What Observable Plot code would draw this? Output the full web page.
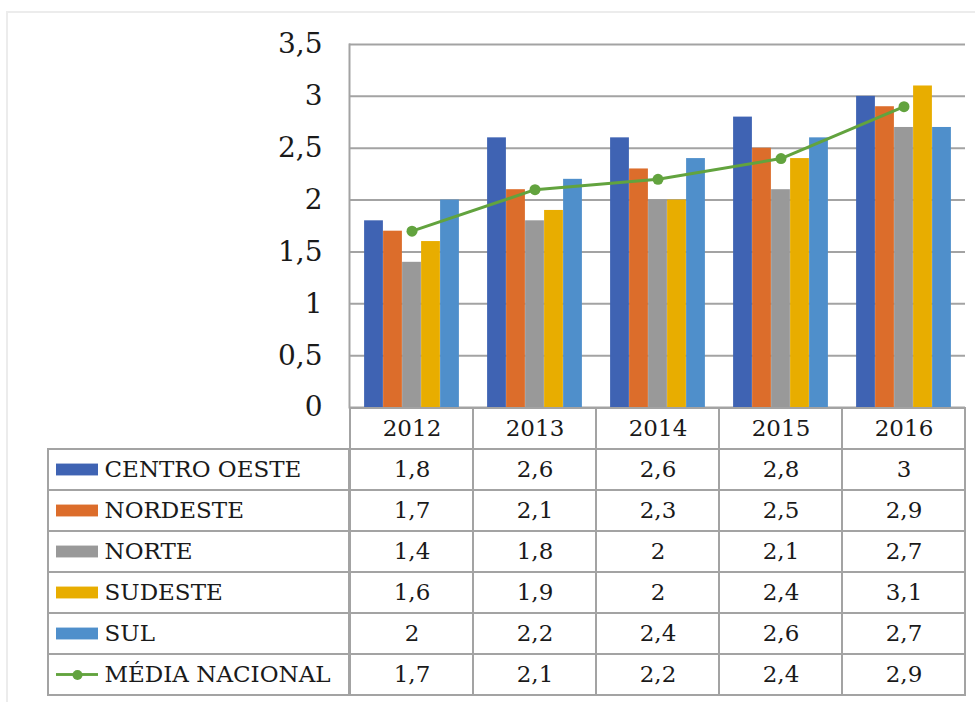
<!DOCTYPE html>
<html><head><meta charset="utf-8">
<script src="https://cdn.jsdelivr.net/npm/d3@7"></script>
<script src="https://cdn.jsdelivr.net/npm/@observablehq/plot@0.6"></script>
<style>
body{margin:0;background:#fff;width:975px;height:702px;overflow:hidden;position:relative;}
#frame{position:absolute;left:6px;top:11px;width:969px;height:691px;border-top:2px solid #ececec;border-left:2px solid #ececec;}
#chart{position:absolute;left:0;top:0;}
#table{position:absolute;left:0;top:407px;}
svg{overflow:visible;}
</style></head><body>
<div id="frame"></div><div id="chart"></div><div id="table"></div>
<script>
// ---- data ----
const years = ["2012", "2013", "2014", "2015", "2016"];
const regions = ["CENTRO OESTE", "NORDESTE", "NORTE", "SUDESTE", "SUL"];
const centroOeste = [1.8, 2.6, 2.6, 2.8, 3];
const nordeste = [1.7, 2.1, 2.3, 2.5, 2.9];
const norte = [1.4, 1.8, 2, 2.1, 2.7];
const sudeste = [1.6, 1.9, 2, 2.4, 3.1];
const sul = [2, 2.2, 2.4, 2.6, 2.7];
const mediaLabel = "MÉDIA NACIONAL";
const mediaNacional = [1.7, 2.1, 2.2, 2.4, 2.9];
const yTicks = [0, 0.5, 1, 1.5, 2, 2.5, 3, 3.5];

// ---- styling ----
const colors = ["#3f63b3", "#dc6d2b", "#999999", "#e8ad00", "#4f8fcb"];
const green = "#62a33e";
const gridColor = "#a3a3a3";
const textColor = "#1a1a1a";
const font = "DejaVu Serif";
const W = 975, left = 349, right = 10;
const frameW = W - left - right;
const bw = frameW / years.length;
const barW = 19;
const pad = (bw - barW * regions.length) / 2;
const fmt = v => String(v).replace(".", ",");

const series = [centroOeste, nordeste, norte, sudeste, sul];
const barData = regions.flatMap((r, i) => years.map((y, j) => ({region: r, year: y, value: series[i][j]})));
const mediaData = years.map((y, j) => ({year: y, value: mediaNacional[j]}));

const chart = Plot.plot({
  width: W, height: 409,
  marginLeft: left, marginRight: right, marginTop: 44, marginBottom: 2,
  style: {fontFamily: font, color: textColor, background: "transparent"},
  x: {type: "band", domain: years, padding: 0, axis: null},
  y: {domain: [0, 3.5]},
  color: {domain: regions, range: colors},
  marks: [
    Plot.gridY(yTicks, {stroke: gridColor, strokeOpacity: 1, strokeWidth: 2}),
    Plot.frame({anchor: "left", stroke: gridColor, strokeWidth: 2}),
    ...regions.map((r, i) => Plot.barY(barData.filter(d => d.region === r), {
      x: "year", y: "value", fill: "region",
      insetLeft: pad + barW * i, insetRight: bw - pad - barW * (i + 1)
    })),
    Plot.lineY(mediaData, {x: "year", y: "value", stroke: green, strokeWidth: 3}),
    Plot.dot(mediaData, {x: "year", y: "value", fill: green, r: 5.5}),
    Plot.axisY(yTicks, {tickSize: 0, tickPadding: 27, fontSize: 28, fontFamily: font, tickFormat: fmt, label: null})
  ]
});
document.getElementById("chart").append(chart);

// ---- table ----
const labels = [...regions, mediaLabel];
const rowKeys = ["header", ...labels];
const allSeries = [...series, mediaNacional];
const valueData = labels.flatMap((l, i) => years.map((y, j) => ({row: l, year: y, value: allSeries[i][j]})));
const gridCells = rowKeys.flatMap(r => years.map(y => ({row: r, year: y})));
const rowH = 288 / rowKeys.length;

const table = Plot.plot({
  width: W, height: 295,
  marginLeft: left, marginRight: right, marginTop: 0, marginBottom: 7,
  style: {fontFamily: font, color: textColor, background: "transparent"},
  x: {type: "band", domain: years, padding: 0, axis: null},
  y: {type: "band", domain: rowKeys, padding: 0, axis: null},
  color: {domain: labels, range: [...colors, green]},
  marks: [
    Plot.cell(labels, {y: d => d, fill: "none", stroke: gridColor, strokeWidth: 2,
      insetLeft: -(left - 48), insetRight: frameW}),
    Plot.cell(gridCells, {x: "year", y: "row", fill: "none", stroke: gridColor, strokeWidth: 2}),
    Plot.cell(regions, {y: d => d, fill: d => d,
      insetLeft: -(left - 56), insetRight: frameW + (left - 98),
      insetTop: (rowH - 12) / 2, insetBottom: (rowH - 12) / 2}),
    Plot.cell([mediaLabel], {y: d => d, fill: green,
      insetLeft: -(left - 56), insetRight: frameW + (left - 98),
      insetTop: (rowH - 3) / 2, insetBottom: (rowH - 3) / 2}),
    Plot.dot([mediaLabel], {y: d => d, frameAnchor: "left", dx: 77 - left, r: 5, fill: green}),
    Plot.text(labels, {y: d => d, text: d => d, frameAnchor: "left", textAnchor: "start",
      dx: 104 - left, fontSize: 23, fontFamily: font, fill: textColor}),
    Plot.text(years, {x: d => d, y: () => "header", text: d => d, fontSize: 23, fontFamily: font, fill: textColor}),
    Plot.text(valueData, {x: "year", y: "row", text: d => fmt(d.value), fontSize: 23, fontFamily: font, fill: textColor})
  ]
});
document.getElementById("table").append(table);
</script>
</body></html>
